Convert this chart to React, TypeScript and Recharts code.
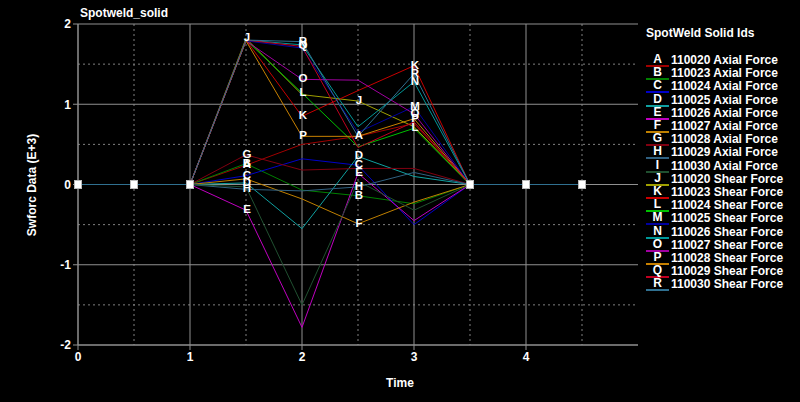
import { LineChart, Line, XAxis, YAxis, CartesianGrid } from "recharts";

const times = [0, 0.5, 1, 1.5, 2, 2.5, 3, 3.5, 4, 4.5];
const xTicks = [0, 1, 2, 3, 4];
const yTicks = [-2, -1, 0, 1, 2];

const codes = ["A", "B", "C", "D", "E", "F", "G", "H", "I", "J", "K", "L", "M", "N", "O", "P", "Q", "R"];
const ids = [
  "110020 Axial Force", "110023 Axial Force", "110024 Axial Force", "110025 Axial Force",
  "110026 Axial Force", "110027 Axial Force", "110028 Axial Force", "110029 Axial Force",
  "110030 Axial Force", "110020 Shear Force", "110023 Shear Force", "110024 Shear Force",
  "110025 Shear Force", "110026 Shear Force", "110027 Shear Force", "110028 Shear Force",
  "110029 Shear Force", "110030 Shear Force",
];
const colors = [
  "#a00000", "#008000", "#0000c8", "#10a0a0", "#c000c0", "#c08000", "#800010", "#306080", "#205030",
  "#a0a000", "#c80000", "#00c000", "#0000a0", "#009898", "#a000a0", "#c88000", "#c00020", "#307090",
];

const A = [0, 0, 0, 0.24, 0.5, 0.6, 0.76, 0, 0, 0];
const B = [0, 0, 0, 0.26, -0.07, -0.14, -0.24, 0, 0, 0];
const C = [0, 0, 0, 0.11, 0.32, 0.24, -0.5, 0, 0, 0];
const D = [0, 0, 0, 0.02, -0.55, 0.35, 0.1, 0, 0, 0];
const E = [0, 0, 0, -0.32, -1.78, 0.14, -0.45, 0, 0, 0];
const F = [0, 0, 0, 0.07, -0.18, -0.49, -0.22, 0, 0, 0];
const G = [0, 0, 0, 0.37, 0.18, 0.2, 0.2, 0, 0, 0];
const H = [0, 0, 0, -0.06, -0.08, -0.03, 0.15, 0, 0, 0];
const I = [0, 0, 0, -0.03, -1.5, 0.04, -0.32, 0, 0, 0];
const J = [0, 0, 0, 1.82, 1.12, 1.04, 0.72, 0, 0, 0];
const K = [0, 0, 0, 1.8, 0.85, 1.17, 1.48, 0, 0, 0];
const L = [0, 0, 0, 1.8, 1.14, 0.47, 0.7, 0, 0, 0];
const M = [0, 0, 0, 1.79, 1.7, 0.65, 0.97, 0, 0, 0];
const N = [0, 0, 0, 1.8, 1.74, 0.72, 1.28, 0, 0, 0];
const O = [0, 0, 0, 1.79, 1.31, 1.3, 0.88, 0, 0, 0];
const P = [0, 0, 0, 1.79, 0.6, 0.6, 0.82, 0, 0, 0];
const Q = [0, 0, 0, 1.8, 1.72, 0.46, 0.78, 0, 0, 0];
const R = [0, 0, 0, 1.8, 1.78, 0.6, 1.38, 0, 0, 0];
const values = [A, B, C, D, E, F, G, H, I, J, K, L, M, N, O, P, Q, R];

// which points carry the curve letter
const labelAt: number[][] = [
  [3, 5], [3, 5], [3, 5], [3, 5], [3, 5], [5], [3], [3, 5], [],
  [3, 5], [4, 6], [4, 6], [6], [4, 6], [4, 6], [4, 6], [4], [4, 6],
];
const squareAt = [0, 1, 2, 7, 8, 9];

const data = times.map((t, i) => {
  const row: any = { t };
  codes.forEach((c, k) => (row[c] = values[k][i]));
  return row;
});

const font = "'Liberation Sans', Arial, sans-serif";

const makeDot = (k: number) => (props: any) => {
  const { cx, cy, index } = props;
  const key = `d-${k}-${index}`;
  if (k === codes.length - 1 && squareAt.includes(index)) {
    return <rect key={key} x={cx - 3.5} y={cy - 4} width={7} height={8} fill="#ffffff" stroke="#bbbbbb" />;
  }
  if (labelAt[k].includes(index)) {
    return (
      <text key={key} x={cx + 1} y={cy + 3} textAnchor="middle" fill="#ffffff" fontSize={11.5} fontWeight="bold" fontFamily={font}>
        {codes[k]}
      </text>
    );
  }
  return <g key={key} />;
};

export default function App() {
  return (
    <div style={{ position: "absolute", left: 0, top: 0, width: 800, height: 402, background: "#000", fontFamily: font }}>
      <LineChart width={800} height={402} data={data} margin={{ top: 24, right: 162, left: 18, bottom: 27 }}>
        <CartesianGrid stroke="#808080" horizontalValues={[-1.5, -0.5, 0.5, 1.5]} verticalValues={[0.5, 1.5, 2.5, 3.5, 4.5]} strokeDasharray="2 3" />
        <CartesianGrid stroke="#909090" horizontalValues={yTicks} verticalValues={xTicks} />
        <XAxis
          dataKey="t"
          type="number"
          domain={[0, 5]}
          ticks={xTicks}
          height={30}
          stroke="#909090"
          tickSize={5}
          tick={{ fill: "#ffffff", fontSize: 12, fontWeight: "bold", fontFamily: font }}
        />
        <YAxis
          type="number"
          domain={[-2, 2]}
          ticks={yTicks}
          width={60}
          stroke="#909090"
          tickSize={5}
          tick={{ fill: "#ffffff", fontSize: 12, fontWeight: "bold", fontFamily: font }}
        />
        {codes.map((c, k) => (
          <Line
            key={c}
            dataKey={c}
            type="linear"
            stroke={colors[k]}
            strokeWidth={1}
            dot={makeDot(k)}
            activeDot={false}
            isAnimationActive={false}
          />
        ))}
      </LineChart>
      <div style={{ position: "absolute", left: 80, top: 6, color: "#fff", fontSize: 12, fontWeight: "bold" }}>Spotweld_solid</div>
      <div style={{ position: "absolute", left: 0, width: 800, top: 376, textAlign: "center", color: "#fff", fontSize: 12, fontWeight: "bold" }}>Time</div>
      <div
        style={{
          position: "absolute", left: 32, top: 185, color: "#fff", fontSize: 12, fontWeight: "bold",
          transform: "translate(-50%, -50%) rotate(-90deg)", whiteSpace: "nowrap",
        }}
      >
        Swforc Data (E+3)
      </div>
      <div style={{ position: "absolute", left: 646, top: 26, color: "#fff", fontSize: 12, fontWeight: "bold", whiteSpace: "nowrap" }}>
        <div style={{ height: 28 }}>SpotWeld Solid Ids</div>
        {codes.map((c, k) => (
          <div key={c} style={{ display: "flex", alignItems: "center", height: 13.2, lineHeight: "13px" }}>
            <span style={{ width: 23, textAlign: "center", borderBottom: `2px solid ${colors[k]}`, lineHeight: "11px" }}>{c}</span>
            <span style={{ marginLeft: 2 }}>{ids[k]}</span>
          </div>
        ))}
      </div>
    </div>
  );
}
